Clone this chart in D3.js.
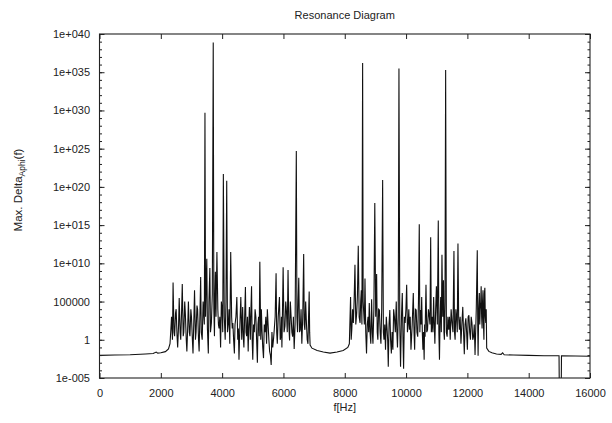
<!DOCTYPE html>
<html><head><meta charset="utf-8">
<script src="https://cdn.jsdelivr.net/npm/d3@7"></script>
<style>
body{margin:0;background:#fff}
svg{display:block}
text{font-family:"Liberation Sans",Arial,Helvetica,sans-serif;fill:#222}
</style>
</head><body>
<svg id="chart" width="612" height="423"></svg>
<script>
// ---- data: [f in Hz, Max. Delta_Aphi(f)] ----
const lowBand = [[0,9e-3],[500,1e-2],[1000,1.1e-2],[1500,1.4e-2],[1750,1.6e-2],[1850,2.5e-2],[1900,1.8e-2],[2000,2e-2],[2150,2.8e-2],[2250,6.3e-2]];
const cluster1 = [[2300,3e-1],[2330,30],[2350,1e3],[2380,1],[2400,3e7],[2430,10],[2450,3],[2480,3e3],[2500,1e4],[2530,3],[2550,1e-1],[2580,100],[2600,3e5],[2630,10],[2650,1],[2680,1e4],[2700,2e7],[2730,3],[2750,10],[2780,1e5],[2800,3e3],[2830,1],[2850,3e-2],[2880,100],[2900,1e5],[2930,10],[2950,3],[2980,1e4],[3000,1e3],[3030,1],[3050,1.6e-2],[3080,1e3],[3100,3e6],[3130,1],[3150,10],[3180,3e4],[3200,1e4],[3230,1],[3250,3e-2],[3280,1e4],[3300,1.6e8],[3320,10],[3350,1],[3380,1e5],[3400,3e3],[3420,1e2],[3440,5e29],[3460,1e3],[3480,1e7],[3500,4e10],[3520,30],[3550,1.6e-2],[3570,1e5],[3600,2.5e9],[3620,10],[3650,160],[3680,1e6],[3710,8e38],[3730,1e4],[3750,3],[3765,1e6],[3780,8e8],[3800,1e3],[3830,3e11],[3860,1e4],[3880,100],[3900,30],[3925,1e3],[3950,1e-1],[3975,1e5],[4000,1e4],[4020,10],[4040,5e21],[4070,1e3],[4100,1],[4125,1e5],[4150,6.3e20],[4175,10],[4200,100],[4225,1e4],[4250,3e-1],[4280,3e11],[4310,1e3],[4330,30],[4350,160],[4375,1],[4400,1.6e-2],[4420,100],[4450,1e3],[4480,4e5],[4510,1],[4530,30],[4550,2.5e-3],[4580,100],[4610,4e5],[4640,1],[4670,2e4],[4690,3],[4710,1e-1],[4735,1e3],[4760,8e6],[4780,10],[4800,3],[4825,1e3],[4850,3e-2],[4870,1e2],[4890,2e4],[4920,1],[4940,1e4],[4960,1e7],[4980,1],[5000,2.5e-3],[5025,100],[5050,10],[5075,1e4],[5100,1e3],[5125,1],[5150,1e-3],[5170,100],[5190,1e3],[5210,3],[5230,1.6e10],[5260,1],[5280,1e4],[5300,20],[5325,1e-1],[5350,4e-3],[5375,1e2],[5400,10],[5425,1e3],[5450,3e-1],[5475,1e4],[5500,100],[5525,1],[5550,3e-2],[5575,1e-2],[5600,5e-4],[5625,10],[5650,1e-1],[5675,1],[5700,20],[5730,1e3],[5760,5e8],[5780,10],[5800,3e-1],[5830,1e3],[5870,4e5],[5895,1],[5920,3],[5935,1e3],[5950,1e-1],[5970,1e4],[5990,3e9],[6020,10],[6050,63],[6075,1e5],[6100,4e3],[6125,10],[6150,1.3e9],[6175,100],[6200,8e-1],[6225,1e5],[6250,1e3],[6275,10],[6300,2.5],[6325,1e3],[6350,6.3e-2],[6380,100],[6420,5e24],[6440,1e3],[6460,10],[6480,1e5],[6500,1.3e8],[6525,10],[6550,20],[6575,1e4],[6600,3e-1],[6630,1e3],[6660,1.6e11],[6680,100],[6700,20],[6725,1e5],[6750,160],[6775,1],[6800,3e-1],[6820,1e3],[6840,2e6],[6855,10],[6870,2e-1]];
const midGap = [[6930,8e-2],[7100,4e-2],[7300,2.5e-2],[7520,1.8e-2],[7750,2.5e-2],[7950,4e-2],[8100,1e-1]];
const cluster2 = [[8150,3e-1],[8190,4e5],[8210,1],[8230,20],[8255,1e4],[8280,160],[8305,1e5],[8333,6.3e9],[8360,100],[8390,3e3],[8415,1e6],[8441,2e12],[8470,1e3],[8500,160],[8520,1e5],[8540,3e6],[8560,100],[8583,1.6e36],[8600,1e5],[8620,3e3],[8640,1e2],[8660,1e8],[8685,10],[8710,1.6e-2],[8735,100],[8760,1e3],[8780,10],[8800,6.3e4],[8825,10],[8850,3e-1],[8876,2e5],[8900,10],[8920,3e-1],[8950,1e4],[8980,8e17],[9010,1e3],[9040,4e8],[9060,10],[9080,1],[9105,1e4],[9130,8e3],[9155,10],[9180,3e-1],[9205,1e4],[9236,8e20],[9260,10],[9280,1],[9305,100],[9330,5e-2],[9355,1e3],[9380,30],[9400,1],[9420,3e-4],[9445,100],[9470,8e3],[9495,1],[9520,1.6e-2],[9545,10],[9570,5e-2],[9595,1e4],[9620,1e3],[9650,10],[9680,1e5],[9700,10],[9720,1e-1],[9745,1e3],[9768,3e35],[9795,1e2],[9820,3e-4],[9850,1e3],[9877,1.3e6],[9900,1],[9920,1.6e-4],[9945,1e3],[9970,160],[9995,1e4],[10020,1.6e7],[10045,10],[10070,160],[10090,1e4],[10110,20],[10135,1e3],[10160,5e-2],[10200,100],[10236,1.3e6],[10260,10],[10280,5e-2],[10305,1e4],[10330,8e3],[10355,10],[10380,2.5],[10405,1e5],[10431,1.3e15],[10450,10],[10470,8e3],[10490,100],[10510,4e5],[10530,10],[10550,5e-2],[10570,10],[10590,2.5e-3],[10605,100],[10620,2.5],[10635,1e4],[10650,1.6e7],[10675,10],[10700,20],[10730,1e4],[10760,1e3],[10780,100],[10803,2.5e13],[10825,10],[10850,1e3],[10875,10],[10900,4e5],[10920,100],[10940,3e-1],[10965,1e4],[10990,1e7],[11020,100],[11051,4e15],[11070,10],[11090,2.5e-3],[11110,1e3],[11130,4e5],[11150,10],[11171,1.3e11],[11195,1e3],[11220,6.3e7],[11235,10],[11250,1],[11270,1e5],[11291,2e35],[11315,10],[11340,2.5],[11365,1e3],[11390,20],[11415,1e3],[11440,1],[11470,1e4],[11500,160],[11530,10],[11562,4e11],[11580,10],[11600,1],[11625,1e4],[11650,630],[11670,10],[11693,4e12],[11715,1e3],[11740,20],[11765,1e3],[11790,3e-1],[11820,100],[11850,2e4],[11875,10],[11900,1.25e-2],[11925,100],[11950,630],[11975,10],[12000,5e-2],[12025,1e3],[12050,1.6e3],[12075,10],[12100,1],[12125,1e3],[12150,160],[12175,1],[12200,2.5],[12225,100],[12250,1e-2],[12290,1e4],[12323,5e11],[12340,10],[12350,8e-3],[12370,1e4],[12390,1.3e6],[12405,100],[12420,8e3],[12435,1e5],[12450,1e7],[12465,1e3],[12480,30],[12495,1e5],[12510,3e6],[12525,100],[12540,1],[12555,1e6],[12570,6.3e6],[12585,1e3],[12600,160],[12615,1e4],[12630,8e-2]];
const highBand = [[12700,3e-2],[12800,2e-2],[12950,1.4e-2],[13100,1.25e-2],[13150,2e-2],[13200,1.1e-2],[13500,1e-2],[14000,9e-3],[14500,8e-3],[14990,8e-3],[15000,1e-7],[15060,1e-7],[15070,8e-3],[16000,7e-3]];

const xTickValues = [0,2000,4000,6000,8000,10000,12000,14000,16000];
const yTickValues = [1e-5,1,1e5,1e10,1e15,1e20,1e25,1e30,1e35,1e40];
const yTickLabels = ["1e-005","1","100000","1e+010","1e+015","1e+020","1e+025","1e+030","1e+035","1e+040"];
const yMinorTicks = d3.range(-5,41).map(e => Math.pow(10,e));
const chartTitle = "Resonance Diagram";
const xLabel = "f[Hz]";

// ---- drawing ----
const svg = d3.select("#chart");
const L = 99.5, R = 590, T = 34, B = 378;
const x = d3.scaleLinear().domain([0,16000]).range([L,R]);
const y = d3.scaleLog().domain([1e-5,1e40]).range([B,T]);

svg.append("defs").append("clipPath").attr("id","clip")
  .append("rect").attr("x",L).attr("y",T).attr("width",R-L).attr("height",B-T);

const pts = [].concat(lowBand, cluster1, midGap, cluster2, highBand);
svg.append("path").datum(pts)
  .attr("clip-path","url(#clip)")
  .attr("fill","none").attr("stroke","#111").attr("stroke-width",1.1)
  .attr("stroke-linejoin","miter")
  .attr("d", d3.line().x(d=>x(d[0])).y(d=>y(d[1])));

function styleAxis(g){
  g.select(".domain").remove();
  g.selectAll(".tick line").attr("stroke","#222").attr("stroke-width",1);
  g.selectAll("text").attr("font-size",11).attr("fill","#222")
    .attr("font-family","'Liberation Sans',Arial,sans-serif");
}
svg.append("g").attr("transform",`translate(0,${B})`)
  .call(d3.axisBottom(x).tickValues(xTickValues).tickSize(-5).tickPadding(11).tickFormat(d3.format("d")))
  .call(styleAxis);
svg.append("g").attr("transform",`translate(0,${T})`)
  .call(d3.axisTop(x).tickValues(xTickValues).tickSize(-5).tickFormat(""))
  .call(styleAxis);
svg.append("g").attr("transform",`translate(${L},0)`)
  .call(d3.axisLeft(y).tickValues(yMinorTicks).tickSize(-2.5).tickFormat(""))
  .call(styleAxis);
svg.append("g").attr("transform",`translate(${L},0)`)
  .call(d3.axisLeft(y).tickValues(yTickValues).tickSize(-5).tickPadding(9.5)
        .tickFormat((d,i)=>yTickLabels[i]))
  .call(styleAxis);
svg.append("g").attr("transform",`translate(${R},0)`)
  .call(d3.axisRight(y).tickValues(yMinorTicks).tickSize(-2.5).tickFormat(""))
  .call(styleAxis);
svg.append("g").attr("transform",`translate(${R},0)`)
  .call(d3.axisRight(y).tickValues(yTickValues).tickSize(-5).tickFormat(""))
  .call(styleAxis);

svg.append("rect").attr("x",L).attr("y",T).attr("width",R-L).attr("height",B-T)
  .attr("fill","none").attr("stroke","#222").attr("stroke-width",1.1);

svg.append("text").attr("x",(L+R)/2).attr("y",19).attr("text-anchor","middle")
  .attr("font-size",11).text(chartTitle);
svg.append("text").attr("x",(L+R)/2).attr("y",411).attr("text-anchor","middle")
  .attr("font-size",11).text(xLabel);
const yl = svg.append("text").attr("transform",`translate(22,190) rotate(-90)`)
  .attr("text-anchor","middle").attr("font-size",11.5);
yl.append("tspan").text("Max. Delta");
yl.append("tspan").attr("font-size",8.5).attr("dy",3).text("Aphi");
yl.append("tspan").attr("dy",-3).text("(f)");
</script>
</body></html>
